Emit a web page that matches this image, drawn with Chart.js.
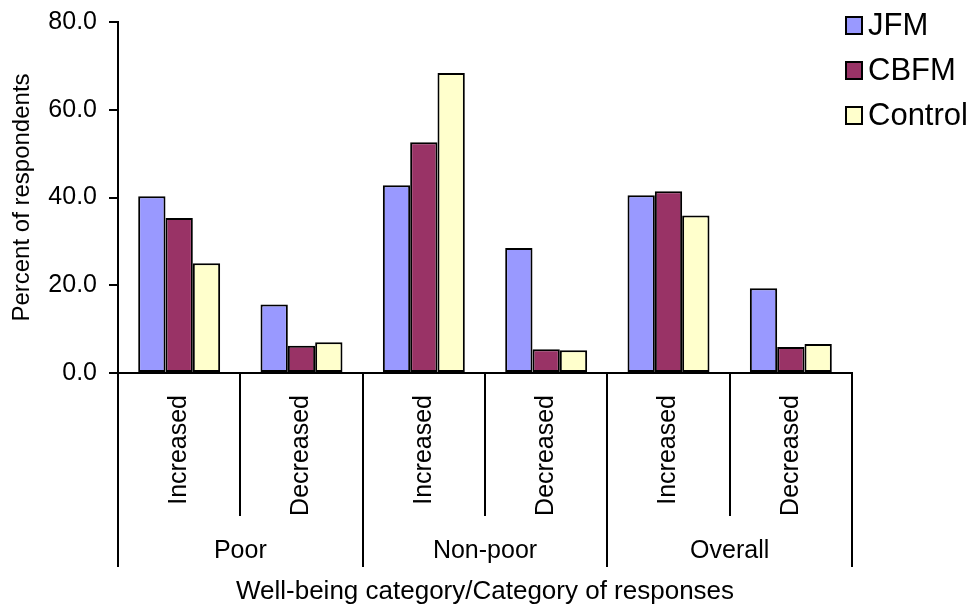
<!DOCTYPE html>
<html>
<head>
<meta charset="utf-8">
<title>Well-being responses</title>
<script src="https://cdn.jsdelivr.net/npm/chart.js@4.4.1/dist/chart.umd.min.js"></script>
<style>
	html, body { margin: 0; padding: 0; background: #ffffff; }
	canvas { display: block; }
</style>
</head>
<body>
<canvas id="wellbeingChart" width="977" height="610"></canvas>
<script>
// Response categories (inner axis level) and well-being groups (outer level)
const responseLabels = ['Increased', 'Decreased', 'Increased', 'Decreased', 'Increased', 'Decreased'];
const groupLabels = ['Poor', 'Non-poor', 'Overall'];

// Percent of respondents per forest management type
const jfmValues = [40.3, 15.6, 42.8, 28.5, 40.5, 19.3];
const cbfmValues = [35.3, 6.2, 52.6, 5.4, 41.4, 5.9];
const controlValues = [25.0, 7.0, 68.4, 5.2, 35.9, 6.6];

const yTicks = [0, 20, 40, 60, 80];

const FONT = "'Liberation Sans', Arial, sans-serif";
const PAD_LEFT = 3;
const PAD_TOP = 22;
const PAD_BOTTOM = 0;
const PLOT_LEFT = 118;
const PLOT_BOTTOM = 373;

// Legend drawn at the top right, overlapping the plot edge
const sideLegend = {
	id: 'sideLegend',
	afterDraw(chart) {
		const ctx = chart.ctx;
		ctx.save();
		ctx.font = '31px ' + FONT;
		ctx.textBaseline = 'middle';
		ctx.textAlign = 'left';
		chart.data.datasets.forEach((ds, i) => {
			const y = 16 + i * 45;
			ctx.fillStyle = ds.backgroundColor;
			ctx.fillRect(845, y, 18, 19);
			ctx.lineWidth = 2;
			ctx.strokeStyle = '#000000';
			ctx.strokeRect(846, y + 1, 16, 17);
			ctx.fillStyle = '#000000';
			ctx.fillText(ds.label, 868, y + 10);
		});
		ctx.restore();
	}
};

// Separator lines and group names below the category axis
const groupAxis = {
	id: 'groupAxis',
	afterDraw(chart) {
		const x = chart.scales.x;
		const ctx = chart.ctx;
		const n = responseLabels.length;
		const w = (x.right - x.left) / n;
		ctx.save();
		ctx.strokeStyle = '#000000';
		ctx.lineWidth = 2;
		for (let k = 0; k <= n; k++) {
			const px = Math.round(x.left + k * w);
			const bottom = k % 2 === 0 ? 567 : 516;
			ctx.beginPath();
			ctx.moveTo(px, x.top);
			ctx.lineTo(px, bottom);
			ctx.stroke();
		}
		ctx.font = '25px ' + FONT;
		ctx.fillStyle = '#000000';
		ctx.textAlign = 'center';
		ctx.textBaseline = 'middle';
		groupLabels.forEach((g, i) => {
			ctx.fillText(g, x.left + (2 * i + 1) * w, 551);
		});
		ctx.restore();
	}
};

const ctx = document.getElementById('wellbeingChart').getContext('2d');
const chart = new Chart(ctx, {
	type: 'bar',
	data: {
		labels: responseLabels,
		datasets: [
			{ label: 'JFM', data: jfmValues, backgroundColor: '#9999FF' },
			{ label: 'CBFM', data: cbfmValues, backgroundColor: '#993366' },
			{ label: 'Control', data: controlValues, backgroundColor: '#FFFFCC' }
		].map(ds => Object.assign(ds, {
			borderColor: '#000000',
			borderWidth: 2,
			borderSkipped: false,
			barPercentage: 1.0,
			categoryPercentage: 0.67
		}))
	},
	options: {
		responsive: false,
		devicePixelRatio: 1,
		animation: false,
		layout: {
			padding: { top: PAD_TOP, right: 125, bottom: PAD_BOTTOM, left: PAD_LEFT }
		},
		plugins: {
			legend: { display: false },
			tooltip: { enabled: false }
		},
		scales: {
			x: {
				grid: { display: false },
				border: { display: true, color: '#000000', width: 2 },
				ticks: {
					color: '#000000',
					font: { family: FONT, size: 25 },
					minRotation: 90,
					maxRotation: 90,
					padding: 14,
					autoSkip: false
				},
				title: {
					display: true,
					text: 'Well-being category/Category of responses',
					color: '#000000',
					font: { family: FONT, size: 26 },
					padding: { top: 0, bottom: 3 }
				},
				afterFit(scale) {
					scale.height = 610 - PLOT_BOTTOM - PAD_BOTTOM;
					scale.paddingLeft = 0;
					scale.paddingRight = 0;
				}
			},
			y: {
				min: 0,
				max: 80,
				afterBuildTicks(scale) {
					scale.ticks = yTicks.map(v => ({ value: v }));
				},
				grid: {
					drawOnChartArea: false,
					drawTicks: true,
					tickLength: 9,
					color: '#000000',
					lineWidth: 2
				},
				border: { display: true, color: '#000000', width: 2 },
				ticks: {
					color: '#000000',
					font: { family: FONT, size: 25 },
					padding: 12,
					callback: v => Number(v).toFixed(1)
				},
				title: {
					display: true,
					text: 'Percent of respondents',
					color: '#000000',
					font: { family: FONT, size: 24 },
					padding: { top: 5, bottom: 4 }
				},
				afterFit(scale) {
					scale.width = PLOT_LEFT - PAD_LEFT;
					scale.paddingTop = 0;
					scale.paddingBottom = 0;
				}
			}
		}
	},
	plugins: [sideLegend, groupAxis]
});
</script>
</body>
</html>
